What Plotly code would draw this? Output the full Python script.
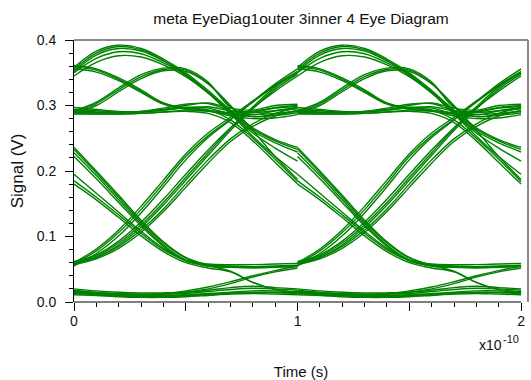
import plotly.graph_objects as go

# Sample instants within one unit interval (units of 1e-10 s)
T = [0.0, 0.1, 0.2, 0.3, 0.4, 0.5, 0.6, 0.7, 0.8, 0.9, 1.0]
PERIODS = [0.0, 1.0]

# ---- upper eye (levels ~0.29 V and ~0.36 V) ----
hump_1 = [0.352, 0.377, 0.387, 0.383, 0.368, 0.347, 0.321, 0.291, 0.264, 0.246, 0.233]
hump_2 = [0.358, 0.383, 0.392, 0.387, 0.371, 0.350, 0.323, 0.293, 0.266, 0.248, 0.236]
hump_3 = [0.345, 0.366, 0.376, 0.374, 0.362, 0.344, 0.319, 0.289, 0.261, 0.243, 0.229]
hump_4 = [0.350, 0.372, 0.382, 0.379, 0.365, 0.346, 0.319, 0.288, 0.258, 0.235, 0.215]
hump_5 = [0.355, 0.380, 0.390, 0.385, 0.369, 0.348, 0.320, 0.287, 0.253, 0.222, 0.195]

hi_mid_1 = [0.361, 0.356, 0.342, 0.324, 0.304, 0.296, 0.293, 0.289, 0.289, 0.292, 0.295]
hi_mid_2 = [0.356, 0.351, 0.338, 0.320, 0.302, 0.294, 0.291, 0.287, 0.286, 0.288, 0.291]
hi_mid_3 = [0.359, 0.354, 0.340, 0.322, 0.303, 0.297, 0.298, 0.292, 0.291, 0.297, 0.300]

mid_hi_1 = [0.290, 0.303, 0.324, 0.344, 0.355, 0.354, 0.334, 0.298, 0.283, 0.287, 0.292]
mid_hi_2 = [0.288, 0.300, 0.321, 0.341, 0.353, 0.352, 0.333, 0.300, 0.262, 0.222, 0.187]
mid_hi_3 = [0.292, 0.305, 0.327, 0.347, 0.357, 0.356, 0.336, 0.297, 0.286, 0.292, 0.297]

mid_1 = [0.290, 0.289, 0.289, 0.291, 0.296, 0.302, 0.303, 0.292, 0.290, 0.296, 0.298]
mid_2 = [0.294, 0.292, 0.290, 0.290, 0.293, 0.297, 0.296, 0.287, 0.283, 0.285, 0.289]
mid_3 = [0.297, 0.294, 0.291, 0.291, 0.294, 0.300, 0.304, 0.296, 0.293, 0.300, 0.302]
mid_4 = [0.287, 0.287, 0.287, 0.288, 0.290, 0.293, 0.292, 0.284, 0.280, 0.281, 0.286]

mid_fall_1 = [0.292, 0.290, 0.289, 0.290, 0.293, 0.296, 0.293, 0.278, 0.250, 0.218, 0.184]
mid_fall_2 = [0.288, 0.287, 0.287, 0.288, 0.290, 0.291, 0.288, 0.274, 0.246, 0.213, 0.180]

# ---- lower eye (levels ~0.012 V and ~0.055 V) ----
fall_a1 = [0.233, 0.197, 0.160, 0.122, 0.090, 0.067, 0.057, 0.055, 0.054, 0.055, 0.056]
fall_a2 = [0.228, 0.193, 0.156, 0.119, 0.087, 0.064, 0.055, 0.053, 0.052, 0.053, 0.054]
fall_a3 = [0.236, 0.200, 0.163, 0.125, 0.092, 0.068, 0.056, 0.047, 0.030, 0.019, 0.015]
fall_a4 = [0.222, 0.188, 0.152, 0.116, 0.085, 0.063, 0.055, 0.053, 0.053, 0.054, 0.055]
fall_b1 = [0.185, 0.160, 0.133, 0.105, 0.080, 0.063, 0.056, 0.054, 0.053, 0.054, 0.055]
fall_b2 = [0.180, 0.156, 0.129, 0.101, 0.077, 0.060, 0.052, 0.046, 0.030, 0.019, 0.015]
fall_b3 = [0.195, 0.166, 0.137, 0.108, 0.082, 0.064, 0.058, 0.057, 0.057, 0.058, 0.059]

rise_a1 = [0.058, 0.078, 0.106, 0.141, 0.181, 0.222, 0.254, 0.279, 0.305, 0.330, 0.350]
rise_a2 = [0.055, 0.074, 0.101, 0.136, 0.176, 0.217, 0.251, 0.278, 0.306, 0.333, 0.356]
rise_a3 = [0.060, 0.081, 0.110, 0.146, 0.186, 0.226, 0.258, 0.282, 0.307, 0.331, 0.352]
rise_b1 = [0.060, 0.070, 0.090, 0.118, 0.152, 0.190, 0.228, 0.265, 0.298, 0.328, 0.350]
rise_b2 = [0.062, 0.072, 0.093, 0.122, 0.157, 0.195, 0.232, 0.266, 0.296, 0.322, 0.345]
rise_b3 = [0.058, 0.068, 0.087, 0.114, 0.148, 0.186, 0.224, 0.262, 0.295, 0.325, 0.348]
rise_c1 = [0.057, 0.066, 0.082, 0.106, 0.138, 0.175, 0.212, 0.245, 0.268, 0.284, 0.292]
rise_c2 = [0.059, 0.068, 0.085, 0.110, 0.142, 0.180, 0.217, 0.249, 0.272, 0.288, 0.296]

low_up_1 = [0.014, 0.012, 0.011, 0.011, 0.012, 0.015, 0.020, 0.028, 0.038, 0.046, 0.052]
low_up_2 = [0.016, 0.014, 0.012, 0.012, 0.013, 0.017, 0.023, 0.031, 0.040, 0.048, 0.055]

zero_1 = [0.016, 0.013, 0.011, 0.010, 0.010, 0.011, 0.013, 0.015, 0.017, 0.017, 0.016]
zero_2 = [0.013, 0.011, 0.009, 0.008, 0.008, 0.009, 0.011, 0.013, 0.014, 0.014, 0.013]
zero_3 = [0.018, 0.015, 0.013, 0.012, 0.012, 0.013, 0.016, 0.019, 0.021, 0.020, 0.018]
zero_4 = [0.011, 0.010, 0.008, 0.007, 0.007, 0.008, 0.010, 0.012, 0.013, 0.012, 0.011]
zero_5 = [0.020, 0.017, 0.015, 0.014, 0.014, 0.015, 0.018, 0.022, 0.024, 0.022, 0.020]
zero_6 = [0.015, 0.012, 0.010, 0.009, 0.009, 0.010, 0.012, 0.014, 0.015, 0.015, 0.014]

WAVES = [
    hump_1, hump_2, hump_3, hump_4, hump_5,
    hi_mid_1, hi_mid_2, hi_mid_3, mid_hi_1, mid_hi_2, mid_hi_3,
    mid_1, mid_2, mid_3, mid_4, mid_fall_1, mid_fall_2,
    fall_a1, fall_a2, fall_a3, fall_a4, fall_b1, fall_b2, fall_b3,
    rise_a1, rise_a2, rise_a3, rise_b1, rise_b2, rise_b3, rise_c1, rise_c2,
    low_up_1, low_up_2,
    zero_1, zero_2, zero_3, zero_4, zero_5, zero_6,
]

X_TICKS = [0, 0.5, 1, 1.5, 2]
X_TICK_TEXT = ["0", "", "1", "", "2"]
Y_TICKS = [0.0, 0.1, 0.2, 0.3, 0.4]
Y_TICK_TEXT = ["0.0", "0.1", "0.2", "0.3", "0.4"]

GREEN = "rgb(0,128,0)"
FONT = "Liberation Sans, Arial, sans-serif"

fig = go.Figure()
for start in PERIODS:
    for wave in WAVES:
        fig.add_trace(go.Scatter(
            x=[start + t for t in T], y=wave, mode="lines",
            line=dict(color=GREEN, width=1.4, shape="spline", smoothing=1.0),
            hoverinfo="skip", showlegend=False,
        ))

fig.update_layout(
    width=531, height=380,
    margin=dict(l=74, r=3, t=40, b=76),
    paper_bgcolor="white", plot_bgcolor="white",
    font=dict(family=FONT, size=14, color="#111"),
    title=dict(text="meta EyeDiag1outer 3inner 4 Eye Diagram",
               x=0.5, xanchor="center", xref="paper", y=0.95, yanchor="middle",
               font=dict(size=15.5)),
    showlegend=False,
)
fig.update_xaxes(
    range=[0, 2.031], showgrid=False, zeroline=False, showline=False,
    tickmode="array", tickvals=X_TICKS, ticktext=X_TICK_TEXT,
    ticks="outside", ticklen=8, tickcolor="black", tickwidth=1,
    minor=dict(dtick=0.1, ticks="outside", ticklen=4, tickcolor="black"),
    ticklabelstandoff=-2,
    title=dict(text="Time (s)", standoff=38, font=dict(size=15)),
)
fig.update_yaxes(
    range=[0, 0.4], showgrid=False, zeroline=False, showline=True,
    linecolor="black", linewidth=1,
    tickmode="array", tickvals=Y_TICKS, ticktext=Y_TICK_TEXT,
    ticks="outside", ticklen=8, tickcolor="black", tickwidth=1,
    minor=dict(dtick=0.02, ticks="outside", ticklen=4, tickcolor="black"),
    ticklabelstandoff=6,
    title=dict(text="Signal (V)", standoff=8),
)

# frame: black bottom axis up to x=2, grey top and right edges
fig.add_shape(type="line", xref="x", yref="paper", x0=0, x1=2, y0=0, y1=0,
              line=dict(color="black", width=1))
fig.add_shape(type="line", xref="paper", yref="paper", x0=0, x1=1, y0=1, y1=1,
              line=dict(color="#8a8a8a", width=2))
fig.add_shape(type="line", xref="paper", yref="paper", x0=1, x1=1, y0=0, y1=1,
              line=dict(color="#8a8a8a", width=2))

# axis multiplier, written as base and raised exponent
fig.add_annotation(text="x10", xref="paper", yref="paper",
                   x=0.947, y=-0.165, xanchor="right", yanchor="middle",
                   showarrow=False, font=dict(size=14))
fig.add_annotation(text="-10", xref="paper", yref="paper",
                   x=0.941, y=-0.14, xanchor="left", yanchor="middle",
                   showarrow=False, font=dict(size=11))

fig.write_html("out.html")
